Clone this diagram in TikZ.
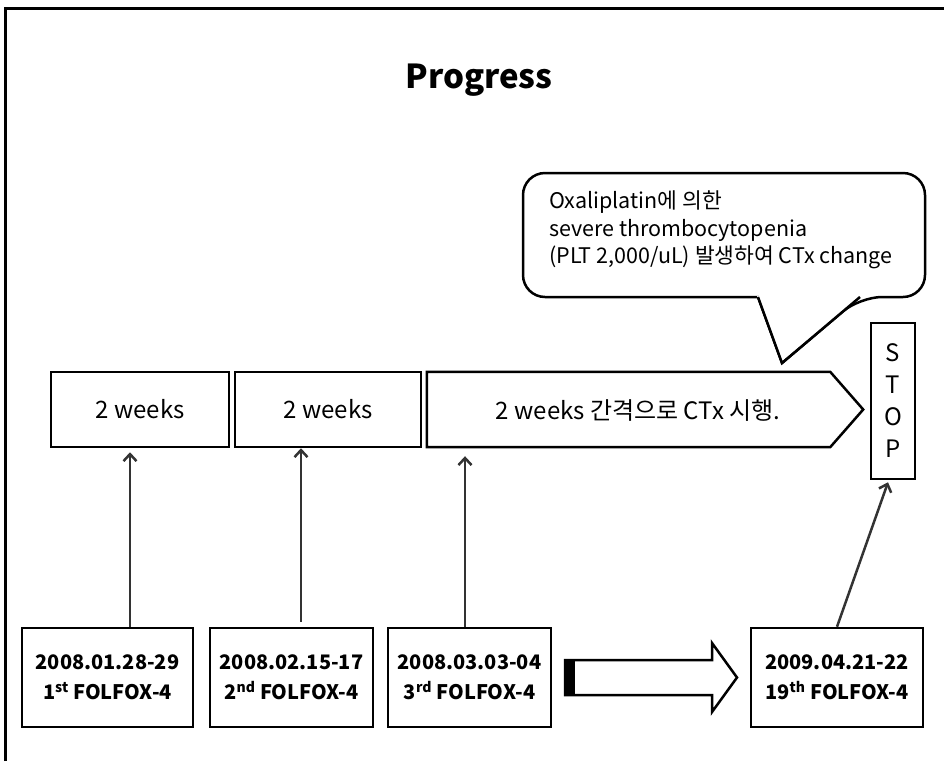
\documentclass[tikz,border=0pt]{standalone}
\usepackage{fontspec}
\setmainfont{Noto Sans CJK KR}
\usetikzlibrary{arrows.meta,calc}
\definecolor{arrgray}{HTML}{333333}
\tikzset{
  box/.style={draw=black, line width=2.5pt, inner sep=0pt, align=center},
  wk/.style={box, minimum height=75pt, font=\fontsize{24}{28}\selectfont},
  dt/.style={box, minimum height=99pt, font=\fontsize{20}{30}\selectfont\bfseries},
  arr/.style={draw=arrgray, line width=2.5pt, -{Straight Barb[length=7pt,width=13pt,line width=2.5pt]}},
  frame/.style={line width=3pt, black}
}
\begin{document}
\begin{tikzpicture}[x=1pt,y=-1pt]
\useasboundingbox (0,0) rectangle (944,761);
\fill[white] (0,0) rectangle (944,761);
% frame
\coordinate (ftl) at (5,8);
\coordinate (ftr) at (944,8);
\coordinate (fbl) at (5,761);
\draw[frame] (fbl) -- (ftl) -- (ftr);
% title
\node[font=\fontsize{33}{38}\selectfont\bfseries] (title) at (479,80) {Progress};
% top boxes
\node[wk, minimum width=178pt] (w1) at (140,409.5) {2 weeks};
\node[wk, minimum width=186pt] (w2) at (328,409.5) {2 weeks};
\node[minimum width=436pt, minimum height=75pt, inner sep=0pt] (w3) at (645,409.5) {};
\draw[line width=2.5pt, line join=miter] (w3.north west) -- ([xshift=-33pt]w3.north east) -- (w3.east) -- ([xshift=-33pt]w3.south east) -- (w3.south west) -- cycle;
\node[font=\fontsize{24}{28}\selectfont] (w3t) at (638,411) {2 weeks 간격으로 CTx 시행.};
\node[box, minimum width=44pt, minimum height=156pt, font=\fontsize{24}{32}\selectfont] (stop) at (893,401) {S\\T\\O\\P};
% callout
\node[align=left, anchor=north west, inner sep=0pt, font=\fontsize{21.5}{27.5}\selectfont] (note) at (549,191) {Oxaliplatin에 의한\\severe thrombocytopenia\\(PLT 2,000/uL) 발생하여 CTx change};
\coordinate (tip) at (782,363);
\draw[line width=2.5pt, rounded corners=22pt] (758,297) -- (523,297) -- (523,173) -- (925,173) -- (925,297) -- (860,297) [sharp corners] -- (tip) -- (758,297) -- cycle;
\fill[white] (757,296) -- (861,296) -- (782,361) -- cycle;
\draw[line width=2.5pt, line join=miter] (758,297) -- (tip) -- (860,297);
% bottom boxes
\node[dt, minimum width=171pt] (b1) at (107.5,677.5) {2008.01.28-29\\1\textsuperscript{st} FOLFOX-4};
\node[dt, minimum width=163pt] (b2) at (291.5,677.5) {2008.02.15-17\\2\textsuperscript{nd} FOLFOX-4};
\node[dt, minimum width=163pt] (b3) at (469.5,677.5) {2008.03.03-04\\3\textsuperscript{rd} FOLFOX-4};
\node[dt, minimum width=172pt] (b4) at (837,677.5) {2009.04.21-22\\19\textsuperscript{th} FOLFOX-4};
% arrows
\draw[arr] ([xshift=22.5pt]b1.north) -- ([xshift=-10pt,yshift=-4pt]w1.south);
\draw[arr] ([xshift=9.5pt,yshift=5pt]b2.north) -- ([xshift=-27pt]w2.south);
\draw[arr] ([xshift=-4.5pt]b3.north) -- ([xshift=-180pt,yshift=-9pt]w3.south);
\draw[arr] (b4.north) -- ([xshift=-5pt,yshift=-2pt]stop.south);
% block arrow
\coordinate (ba) at (565,677.5);
\draw[line width=2.5pt, line join=miter, fill=white] (ba) ++(0,-17.5) -- (712,660) -- (712,643) -- (737,677.5) -- (712,712) -- (712,695) -- (565,695) -- cycle;
\fill[black] (564,659) rectangle (575,696);
\end{tikzpicture}
\end{document}
